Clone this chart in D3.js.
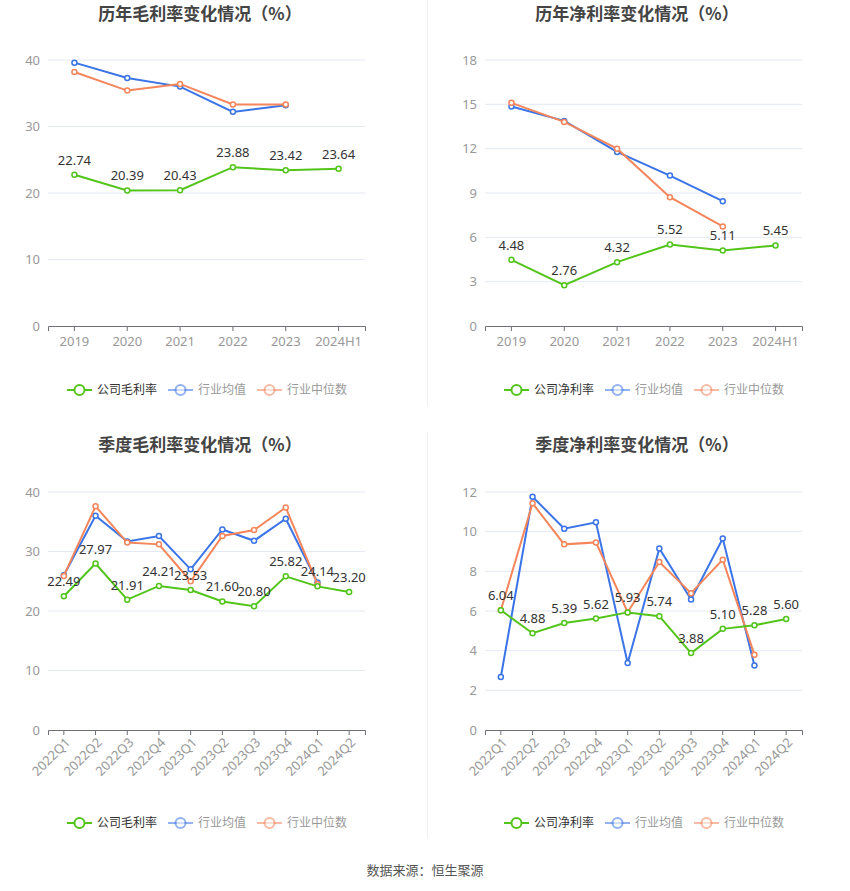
<!DOCTYPE html>
<html>
<head>
<meta charset="utf-8">
<script src="https://cdn.jsdelivr.net/npm/d3@7/dist/d3.min.js"></script>
<style>
  html, body { margin:0; padding:0; background:#fff; }
  svg { display:block; font-family:"Noto Sans CJK SC", "Noto Sans", sans-serif; }
</style>
</head>
<body>
<svg id="chart" width="850" height="891"></svg>
<script>
// ---- data ----
var yearCats = ['2019', '2020', '2021', '2022', '2023', '2024H1']
var quarterCats = ['2022Q1', '2022Q2', '2022Q3', '2022Q4', '2023Q1', '2023Q2', '2023Q3', '2023Q4', '2024Q1', '2024Q2']

var yearGross     = [22.74, 20.39, 20.43, 23.88, 23.42, 23.64]
var yearGrossAvg  = [39.6, 37.3, 36.0, 32.2, 33.2, null]
var yearGrossMed  = [38.2, 35.4, 36.4, 33.3, 33.3, null]

var yearNet       = [4.48, 2.76, 4.32, 5.52, 5.11, 5.45]
var yearNetAvg    = [14.85, 13.88, 11.78, 10.18, 8.45, null]
var yearNetMed    = [15.1, 13.81, 12.0, 8.72, 6.74, null]

var qGross        = [22.49, 27.97, 21.91, 24.21, 23.53, 21.60, 20.80, 25.82, 24.14, 23.20]
var qGrossAvg     = [26.0, 36.0, 31.7, 32.6, 27.0, 33.7, 31.8, 35.5, 24.8, null]
var qGrossMed     = [25.9, 37.6, 31.5, 31.2, 25.0, 32.6, 33.6, 37.4, 24.5, null]

var qNet          = [6.04, 4.88, 5.39, 5.62, 5.93, 5.74, 3.88, 5.10, 5.28, 5.60]
var qNetAvg       = [2.67, 11.76, 10.15, 10.47, 3.38, 9.15, 6.58, 9.65, 3.25, null]
var qNetMed       = [6.04, 11.43, 9.36, 9.46, 5.94, 8.47, 6.9, 8.59, 3.79, null]

var colors = { company:'#52c41a', avg:'#3b74e6', med:'#f5855b' }
var legendNames = ['行业均值', '行业中位数']

var svg = d3.select('#chart')

// faint dividers between panels
svg.append('line').attr('x1', 427.5).attr('x2', 427.5).attr('y1', 0).attr('y2', 406)
    .attr('stroke', '#eeeeee')
svg.append('line').attr('x1', 427.5).attr('x2', 427.5).attr('y1', 432).attr('y2', 838)
    .attr('stroke', '#eeeeee')

function drawPanel(cfg)
{
    var g = svg.append('g').attr('transform', 'translate(' + cfg.dx + ',' + cfg.dy + ')')

    g.append('text')
        .attr('x', 200).attr('y', 20)
        .attr('text-anchor', 'middle')
        .attr('font-size', 17).attr('font-weight', 'bold')
        .attr('fill', '#444')
        .text(cfg.title)

    var x = d3.scaleBand().domain(cfg.cats).range([48, 365])
    var y = d3.scaleLinear().domain([0, cfg.yMax]).range([cfg.bottom, cfg.top])
    var cx = d=> x(d) + x.bandwidth() / 2
    var ticks = d3.range(0, cfg.yMax + 0.001, cfg.yStep)

    // grid
    g.append('g').selectAll('line').data(ticks.filter(t=> t > 0)).join('line')
        .attr('x1', 48).attr('x2', 365)
        .attr('y1', d=> y(d)).attr('y2', d=> y(d))
        .attr('stroke', '#e3e8f3')

    // y axis labels
    var ya = g.append('g').attr('transform', 'translate(40,0)')
        .call(d3.axisLeft(y).tickValues(ticks).tickSize(0).tickPadding(0))
    ya.select('.domain').remove()
    ya.selectAll('text').attr('fill', '#999').attr('font-size', 13)
        .style('font-family', '"Noto Sans", sans-serif')

    // x axis
    var xa = g.append('g').attr('transform', 'translate(0,' + cfg.bottom + ')')
        .call(d3.axisBottom(x).tickSizeOuter(0).tickSize(5).tickPadding(6))
    xa.select('.domain').attr('stroke', '#6e7079')
    xa.selectAll('.tick line').attr('stroke', '#6e7079')
    xa.selectAll('text').attr('fill', '#999').attr('font-size', 13)
        .style('font-family', '"Noto Sans", sans-serif')
    if (cfg.rotate) {
        xa.selectAll('text')
            .attr('text-anchor', 'end')
            .attr('dy', '0.35em')
            .attr('transform', 'translate(4,10) rotate(-45)')
            .attr('y', 0).attr('x', 0)
    }

    var line = d3.line()
        .defined(d=> d.v != null)
        .x(d=> cx(d.c))
        .y(d=> y(d.v))

    var series = [
        { vals:cfg.company, color:colors.company },
        { vals:cfg.avg,     color:colors.avg },
        { vals:cfg.med,     color:colors.med }
    ]
    // draw company last so it sits on top
    ;[series[1], series[2], series[0]].forEach(s=> {
        var pts = cfg.cats.map((c, i)=> ({ c:c, v:s.vals[i] }))
        g.append('path')
            .datum(pts)
            .attr('fill', 'none')
            .attr('stroke', s.color)
            .attr('stroke-width', 2)
            .attr('d', line)
        g.append('g').selectAll('circle').data(pts.filter(d=> d.v != null)).join('circle')
            .attr('cx', d=> cx(d.c))
            .attr('cy', d=> y(d.v))
            .attr('r', 2.5)
            .attr('fill', '#fff')
            .attr('stroke', s.color)
            .attr('stroke-width', 1.5)
    })

    // value labels for company series
    g.append('g').selectAll('text').data(cfg.cats.map((c, i)=> ({ c:c, v:cfg.company[i] }))).join('text')
        .attr('x', d=> cx(d.c))
        .attr('y', d=> y(d.v) - 10)
        .attr('text-anchor', 'middle')
        .attr('font-size', 13)
        .attr('fill', '#333')
        .style('font-family', '"Noto Sans", sans-serif')
        .text(d=> d.v.toFixed(2))

    // legend
    var items = [
        { name:cfg.companyName, color:colors.company, text:'#333', op:1 },
        { name:legendNames[0], color:colors.avg, text:'#999', op:0.55 },
        { name:legendNames[1], color:colors.med, text:'#999', op:0.55 }
    ]
    var lx = [67, 168, 257]
    var lg = g.append('g').attr('transform', 'translate(0,' + cfg.legendY + ')')
    items.forEach((it, i)=> {
        var ig = lg.append('g').attr('transform', 'translate(' + lx[i] + ',0)')
        ig.append('line').attr('x1', 0).attr('x2', 25).attr('y1', 0).attr('y2', 0)
            .attr('stroke', it.color).attr('stroke-width', 2).attr('opacity', it.op)
        ig.append('circle').attr('cx', 12.5).attr('cy', 0).attr('r', 5)
            .attr('fill', '#fff').attr('stroke', it.color).attr('stroke-width', 2)
            .attr('opacity', it.op)
        ig.append('text').attr('x', 30).attr('y', 0).attr('dy', '0.35em')
            .attr('font-size', 12).attr('fill', it.text)
            .text(it.name)
    })
}

drawPanel({ dx:0, dy:0, title:'历年毛利率变化情况（%）', cats:yearCats,
    company:yearGross, avg:yearGrossAvg, med:yearGrossMed, companyName:'公司毛利率',
    yMax:40, yStep:10, top:60, bottom:326, legendY:390, rotate:false })

drawPanel({ dx:437, dy:0, title:'历年净利率变化情况（%）', cats:yearCats,
    company:yearNet, avg:yearNetAvg, med:yearNetMed, companyName:'公司净利率',
    yMax:18, yStep:3, top:60, bottom:326, legendY:390, rotate:false })

drawPanel({ dx:0, dy:431, title:'季度毛利率变化情况（%）', cats:quarterCats,
    company:qGross, avg:qGrossAvg, med:qGrossMed, companyName:'公司毛利率',
    yMax:40, yStep:10, top:61, bottom:299, legendY:392, rotate:true })

drawPanel({ dx:437, dy:431, title:'季度净利率变化情况（%）', cats:quarterCats,
    company:qNet, avg:qNetAvg, med:qNetMed, companyName:'公司净利率',
    yMax:12, yStep:2, top:61, bottom:299, legendY:392, rotate:true })

svg.append('text')
    .attr('x', 425).attr('y', 875)
    .attr('text-anchor', 'middle')
    .attr('font-size', 13).attr('fill', '#555')
    .text('数据来源：恒生聚源')
</script>
</body>
</html>
